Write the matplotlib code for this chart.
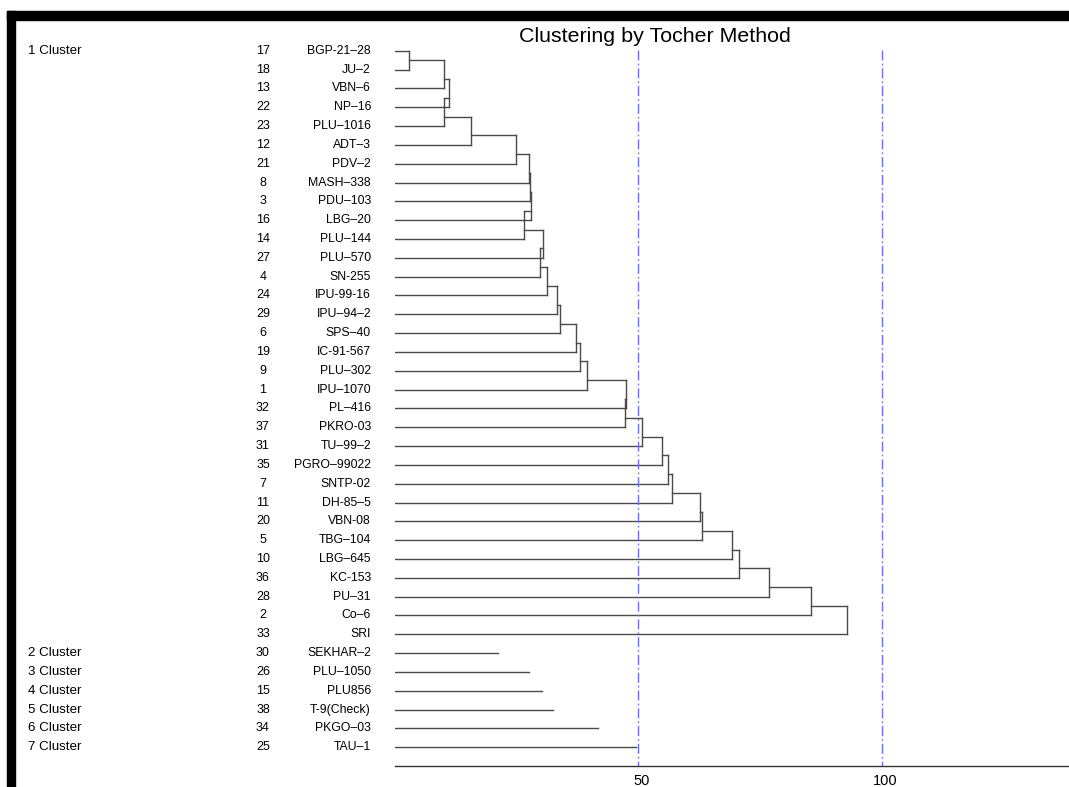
import matplotlib
matplotlib.use("Agg")
import matplotlib.pyplot as plt
import matplotlib.transforms as mtransforms
from matplotlib.patches import Rectangle

plt.rcParams['font.family'] = ['Liberation Sans', 'DejaVu Sans']

# cluster 1 members, top to bottom
c1_ids = [17, 18, 13, 22, 23, 12, 21, 8, 3, 16, 14, 27, 4, 24, 29, 6, 19, 9, 1,
          32, 37, 31, 35, 7, 11, 20, 5, 10, 36, 28, 2, 33]
c1_names = ["BGP-21–28", "JU–2", "VBN–6", "NP–16", "PLU–1016", "ADT–3", "PDV–2",
            "MASH–338", "PDU–103", "LBG–20", "PLU–144", "PLU–570", "SN-255",
            "IPU-99-16", "IPU–94–2", "SPS–40", "IC-91-567", "PLU–302", "IPU–1070",
            "PL–416", "PKRO-03", "TU–99–2", "PGRO–99022", "SNTP-02", "DH-85–5",
            "VBN-08", "TBG–104", "LBG–645", "KC-153", "PU–31", "Co–6", "SRI"]
# height at which each member (from the 2nd on) joins the growing cluster
c1_heights = [3.0, 10.2, 11.1, 10.1, 15.6, 24.9, 27.6, 27.8, 27.9, 26.5, 30.5,
              29.8, 31.3, 33.3, 34.0, 37.1, 38.0, 39.5, 47.5, 47.3, 50.8, 54.9,
              56.1, 56.9, 62.6, 63.0, 69.2, 70.7, 76.8, 85.4, 92.9]

# single-member clusters 2..7
solo_ids = [30, 26, 15, 38, 34, 25]
solo_names = ["SEKHAR–2", "PLU–1050", "PLU856", "T-9(Check)", "PKGO–03", "TAU–1"]
solo_dist = [21.2, 27.5, 30.2, 32.5, 41.7, 49.5]

cluster_labels = ["1 Cluster", "2 Cluster", "3 Cluster", "4 Cluster",
                  "5 Cluster", "6 Cluster", "7 Cluster"]
ticks = [50, 100]
ref_lines = [50, 100]

W, H = 1069, 787
fig = plt.figure(figsize=(W / 100, H / 100), dpi=100)

# black frame pieces (top and left)
fig.patches.append(Rectangle((7.3 / W, 0), 7.7 / W, (H - 11) / H,
                             transform=fig.transFigure, color='black', zorder=0))
fig.patches.append(Rectangle((7.3 / W, (H - 20) / H), 1 - 7.3 / W, 9 / H,
                             transform=fig.transFigure, color='black', zorder=0))

ax_left = 394.8 / W
ax = fig.add_axes([ax_left, 20.9 / H, 1 - ax_left, 734.2 / H])
n_rows = len(c1_ids) + len(solo_ids)
ax.set_ylim(n_rows + 1, 0)
ax.set_xlim(0, 138.4)

lc = '#4a4a4a'
lw = 1.0

# chain dendrogram for cluster 1
ax.plot([0, c1_heights[0]], [1, 1], color=lc, lw=lw)
prev = None
for i, h in enumerate(c1_heights):
    row = i + 2
    ax.plot([0, h], [row, row], color=lc, lw=lw)
    top = 1 if i == 0 else row - 1.5
    ax.plot([h, h], [top, row], color=lc, lw=lw)
    if prev is not None:
        ax.plot([prev, h], [top, top], color=lc, lw=lw)
    prev = h

# singletons
for j, d in enumerate(solo_dist):
    row = len(c1_ids) + 1 + j
    ax.plot([0, d], [row, row], color=lc, lw=lw)

ax.vlines(ref_lines, 0.95, n_rows + 1, colors='#6f6fff', lw=1.0,
          linestyles=[(0, (7.2, 2.2, 1.2, 2.2))])

for s in ['left', 'right', 'top']:
    ax.spines[s].set_visible(False)
ax.spines['bottom'].set_color('#333333')
ax.spines['bottom'].set_linewidth(1.0)
ax.set_yticks([])
ax.set_xticks(ticks)
ax.set_xticklabels([str(t) for t in ticks])
ax.tick_params(axis='x', length=0, pad=5.5, labelsize=10.5)
shift = mtransforms.ScaledTranslation(3 / 100, 0, fig.dpi_scale_trans)
for lab in ax.get_xticklabels():
    lab.set_transform(lab.get_transform() + shift)

# left side labels
tr = mtransforms.blended_transform_factory(fig.transFigure, ax.transData)
all_ids = c1_ids + solo_ids
all_names = c1_names + solo_names
for k, (gid, name) in enumerate(zip(all_ids, all_names)):
    row = k + 1
    ax.text(263 / W, row, str(gid), transform=tr, ha='center', va='center',
            fontsize=9, clip_on=False)
    ax.text(371 / W, row, name, transform=tr, ha='right', va='center',
            fontsize=8.8, clip_on=False)

cl_rows = [1] + [len(c1_ids) + 1 + j for j in range(len(solo_ids))]
for lab, row in zip(cluster_labels, cl_rows):
    ax.text(28 / W, row, lab, transform=tr, ha='left', va='center',
            fontsize=9.6, clip_on=False)

fig.text(655 / W, 1 - 36 / H, "Clustering by Tocher Method", ha='center',
         va='center', fontsize=15.4)

plt.savefig('out.png', dpi=100)
